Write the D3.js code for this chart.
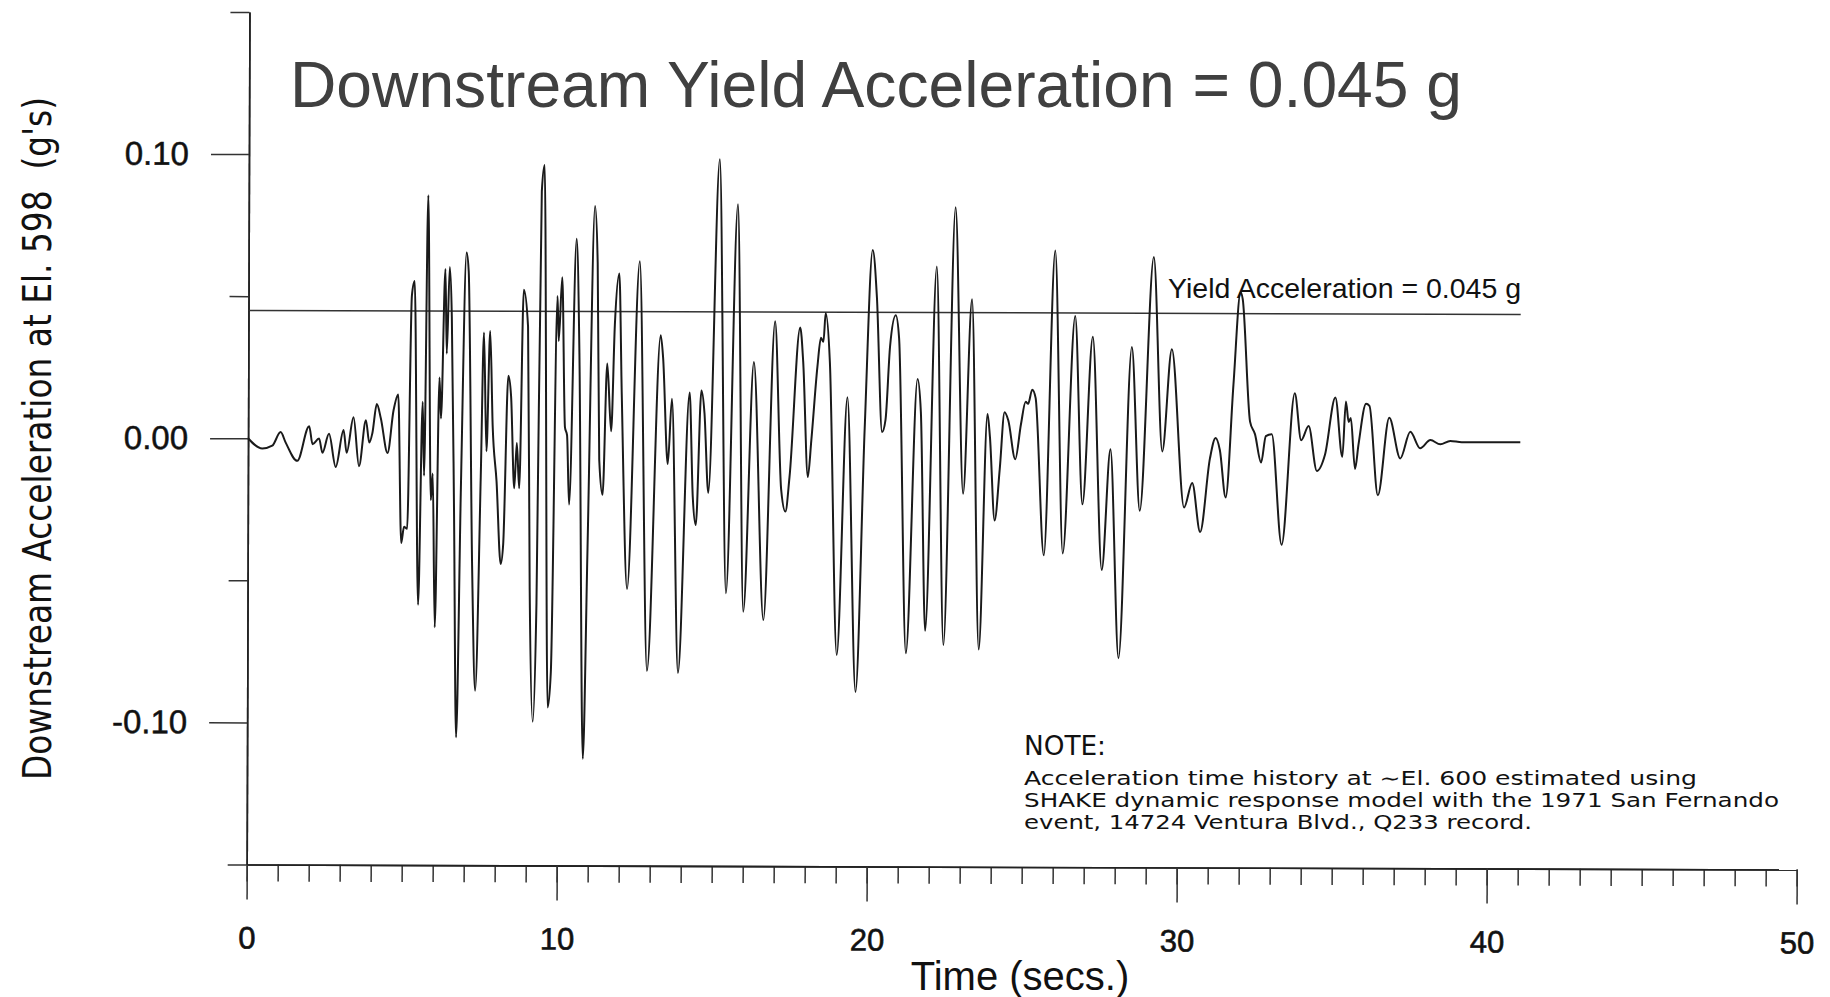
<!DOCTYPE html>
<html><head><meta charset="utf-8">
<script src="https://cdn.jsdelivr.net/npm/d3@7"></script>
<style>html,body{margin:0;padding:0;background:#fff;overflow:hidden}</style>
</head><body>
<svg id="chart" width="1830" height="997"></svg>
<script>
// ---- data ----
const timeSec = [0.00,0.46,0.78,1.05,1.21,1.59,1.97,2.08,2.29,2.40,2.61,2.83,3.08,3.18,3.40,3.58,3.80,3.91,4.01,4.15,4.28,4.50,4.69,4.84,4.95,5.04,5.14,5.27,5.36,5.50,5.63,5.68,5.79,5.90,5.96,6.04,6.17,6.22,6.35,6.40,6.49,6.56,6.65,6.74,6.87,7.03,7.10,7.24,7.35,7.51,7.60,7.69,7.80,7.89,8.02,8.16,8.24,8.39,8.48,8.59,8.67,8.75,8.88,9.02,9.10,9.21,9.32,9.45,9.54,9.69,9.79,9.97,10.01,10.12,10.22,10.29,10.36,10.58,10.68,10.83,10.96,11.17,11.26,11.33,11.44,11.58,11.71,11.82,11.96,12.05,12.24,12.62,12.89,13.30,13.38,13.54,13.67,13.89,14.24,14.35,14.45,14.62,14.72,14.85,15.19,15.43,15.78,15.99,16.31,16.64,16.99,17.20,17.34,17.47,17.80,17.90,18.06,18.17,18.36,18.47,18.55,18.62,18.76,19.01,19.33,19.62,19.89,20.13,20.27,20.45,20.56,20.70,20.88,20.99,21.24,21.59,21.70,21.86,22.20,22.45,22.80,23.07,23.34,23.59,23.85,23.93,24.09,24.25,24.40,24.52,24.75,24.93,25.08,25.16,25.29,25.40,25.68,26.02,26.29,26.67,26.92,27.24,27.55,27.82,28.10,28.50,28.77,29.20,29.49,29.79,30.20,30.46,30.72,31.03,31.21,31.35,31.54,31.78,32.00,32.07,32.32,32.48,32.68,32.83,33.02,33.35,33.76,33.97,34.21,34.48,34.74,35.07,35.30,35.41,35.50,35.57,35.71,35.82,36.06,36.17,36.45,36.81,37.17,37.49,37.81,38.14,38.46,38.78,39.15,41.04];
const accelG = [0.0000,-0.0036,-0.0026,0.0022,-0.0014,-0.0079,0.0043,-0.0020,0.0000,-0.0050,0.0017,-0.0100,0.0030,-0.0050,0.0075,-0.0097,0.0065,-0.0014,0.0020,0.0122,0.0072,-0.0050,0.0100,0.0156,-0.0367,-0.0310,-0.0317,0.0504,0.0555,-0.0584,0.0130,-0.0130,0.0857,-0.0216,-0.0122,-0.0663,0.0216,0.0072,0.0598,0.0300,0.0605,0.0430,-0.0245,-0.1050,-0.0173,0.0656,0.0590,-0.0447,-0.0886,-0.0130,0.0375,-0.0043,0.0380,0.0043,-0.0150,-0.0440,-0.0370,0.0223,0.0151,-0.0173,-0.0014,-0.0173,0.0526,0.0396,-0.0530,-0.0994,-0.0576,0.0872,0.0965,-0.0944,-0.0820,0.0504,0.0346,0.0570,0.0043,0.0014,-0.0230,0.0706,0.0300,-0.1124,-0.0390,0.0821,0.0620,-0.0072,-0.0195,0.0267,0.0029,0.0403,0.0584,0.0158,-0.0526,0.0627,-0.0814,0.0367,0.0288,-0.0086,0.0144,-0.0821,0.0166,-0.0200,-0.0300,0.0173,0.0094,-0.0187,0.0987,-0.0540,0.0829,-0.0605,0.0274,-0.0634,0.0418,-0.0173,-0.0252,-0.0130,0.0396,0.0274,-0.0130,0.0000,0.0260,0.0360,0.0346,0.0447,0.0274,-0.0756,0.0151,-0.0886,0.0043,0.0670,0.0504,0.0029,0.0072,0.0331,0.0440,0.0360,-0.0749,0.0216,0.0100,-0.0670,0.0612,-0.0720,0.0821,-0.0187,0.0497,-0.0735,0.0094,0.0014,-0.0281,-0.0100,0.0100,0.0072,-0.0065,0.0058,0.0137,0.0130,0.0180,0.0151,-0.0403,0.0670,-0.0396,0.0440,-0.0223,0.0367,-0.0454,-0.0029,-0.0764,0.0331,-0.0245,0.0648,-0.0036,0.0324,-0.0233,-0.0147,-0.0319,-0.0060,0.0012,-0.0031,-0.0197,0.0199,0.0524,0.0502,0.0070,0.0026,-0.0074,0.0019,0.0026,-0.0363,0.0170,0.0005,0.0055,-0.0103,-0.0046,0.0156,-0.0053,0.0142,0.0070,0.0084,-0.0096,-0.0010,0.0134,0.0127,-0.0188,0.0085,-0.0058,0.0036,-0.0022,0.0007,-0.0008,0.0004,0.0000,0.0000];
const yieldAccel = 0.045;
const xMajorTicks = [0,10,20,30,40,50];
const xTickLabels = ["0","10","20","30","40","50"];
const xMinorTicks = [0,1,2,3,4,5,6,7,8,9,10,11,12,13,14,15,16,17,18,19,20,21,22,23,24,25,26,27,28,29,30,31,32,33,34,35,36,37,38,39,40,41,42,43,44,45,46,47,48,49,50];
const yMajorTicks = [-0.10,0.00,0.10];
const yTickLabels = ["-0.10","0.00","0.10"];
const yMinorTicks = [-0.15,-0.05,0.05,0.15];
const titleText = "Downstream Yield Acceleration = 0.045 g";
const yLabelText = "Downstream Acceleration at El. 598\u00a0\u00a0(g's)";
const xLabelText = "Time (secs.)";
const yieldLabelText = "Yield Acceleration = 0.045 g";
const noteTitle = "NOTE:";
const noteLines = ["Acceleration time history at \u223cEl. 600 estimated using",
                   "SHAKE dynamic response model with the 1971 San Fernando",
                   "event, 14724 Ventura Blvd., Q233 record."];

// ---- drawing ----
const W = 1830, H = 997;
const svg = d3.select("#chart");
svg.append("rect").attr("width", W).attr("height", H).attr("fill", "#fff");

const x = d3.scaleLinear().domain([0, 50]).range([246.7, 1796.7]);
const y = d3.scaleLinear().domain([-0.15, 0.15]).range([864.5, 12]);

const plot = svg.append("g").attr("transform", `rotate(0.185,${x(0)},${y(-0.15)})`);

const sans = "'Liberation Sans', Arial, Helvetica, sans-serif";
const narrow = "'Liberation Sans Narrow', 'DejaVu Sans Condensed', 'Liberation Sans', sans-serif";

function styleAxis(g) {
  g.attr("font-family", sans);
  g.select(".domain").attr("stroke", "#222").attr("stroke-width", 1.6);
  g.selectAll(".tick line").attr("stroke", "#333").attr("stroke-width", 1.5);
}

// x axis: minor ticks, then major ticks with labels
plot.append("g").attr("transform", `translate(0,${y(-0.15)})`)
  .call(d3.axisBottom(x).tickValues(xMinorTicks).tickSize(17).tickSizeOuter(0).tickFormat(""))
  .call(styleAxis);
plot.append("g").attr("transform", `translate(0,${y(-0.15)})`)
  .call(d3.axisBottom(x).tickValues(xMajorTicks).tickSize(35).tickSizeOuter(0).tickPadding(27)
        .tickFormat((d, i) => xTickLabels[i]))
  .call(styleAxis)
  .call(g => g.selectAll(".tick text").attr("font-size", 31).attr("fill", "#111")
        .attr("stroke", "#111").attr("stroke-width", 0.6));

// y axis: minor ticks, then major ticks with labels
plot.append("g").attr("transform", `translate(${x(0)},0)`)
  .call(d3.axisLeft(y).tickValues(yMinorTicks).tickSize(19).tickSizeOuter(0).tickFormat(""))
  .call(styleAxis);
plot.append("g").attr("transform", `translate(${x(0)},0)`)
  .call(d3.axisLeft(y).tickValues(yMajorTicks).tickSize(38).tickSizeOuter(0).tickPadding(22)
        .tickFormat((d, i) => yTickLabels[i]))
  .call(styleAxis)
  .call(g => g.selectAll(".tick text").attr("font-size", 33).attr("fill", "#111")
        .attr("stroke", "#111").attr("stroke-width", 0.5));

// yield line
const tEnd = timeSec[timeSec.length - 1];
plot.append("line")
  .attr("x1", x(0)).attr("x2", x(tEnd))
  .attr("y1", y(yieldAccel)).attr("y2", y(yieldAccel))
  .attr("stroke", "#333").attr("stroke-width", 1.5);

// acceleration trace
const pts = timeSec.map((t, i) => ({ t, v: accelG[i] }));
plot.append("path").datum(pts)
  .attr("fill", "none").attr("stroke", "#1a1a1a").attr("stroke-width", 2)
  .attr("stroke-linejoin", "round")
  .attr("d", d3.line().x(d => x(d.t)).y(d => y(d.v)).curve(d3.curveMonotoneX));

// title
svg.append("text").attr("x", 290).attr("y", 106.5)
  .attr("font-family", sans).attr("font-size", 64).attr("fill", "#404040")
  .attr("textLength", 1172).attr("lengthAdjust", "spacingAndGlyphs")
  .text(titleText);

// y axis title
svg.append("text")
  .attr("transform", "translate(51,438.5) rotate(-90)")
  .attr("text-anchor", "middle")
  .attr("font-family", narrow).attr("font-size", 39).attr("fill", "#111")
  .attr("textLength", 683).attr("lengthAdjust", "spacingAndGlyphs")
  .text(yLabelText);

// x axis title
svg.append("text").attr("x", 1020).attr("y", 990).attr("text-anchor", "middle")
  .attr("font-family", sans).attr("font-size", 40).attr("fill", "#111")
  .text(xLabelText);

// yield label
svg.append("text").attr("x", 1168).attr("y", 298)
  .attr("font-family", sans).attr("font-size", 28.5).attr("fill", "#111")
  .text(yieldLabelText);

// note
svg.append("text").attr("x", 1024).attr("y", 755)
  .attr("font-family", narrow).attr("font-size", 27).attr("fill", "#111")
  .attr("textLength", 82).attr("lengthAdjust", "spacingAndGlyphs")
  .text(noteTitle);
const noteLens = [673, 755, 508];
noteLines.forEach((s, i) => {
  svg.append("text").attr("x", 1024).attr("y", 785 + i * 22)
    .attr("font-family", narrow).attr("font-size", 19.5).attr("fill", "#111")
    .attr("textLength", noteLens[i]).attr("lengthAdjust", "spacingAndGlyphs")
    .text(s);
});
</script>
</body></html>
